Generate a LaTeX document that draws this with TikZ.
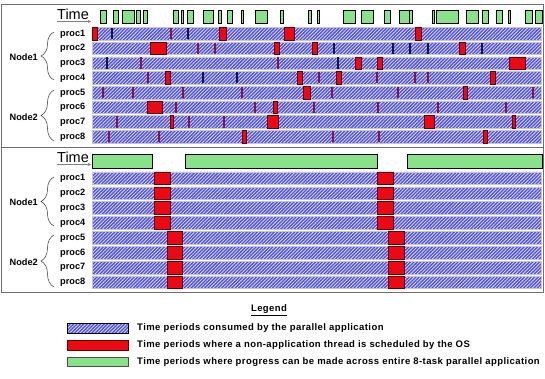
\documentclass[tikz,border=0pt]{standalone}
\usepackage{fontspec}
\setmainfont{Liberation Sans}
\usetikzlibrary{patterns,patterns.meta,decorations.pathreplacing,arrows.meta}
\definecolor{appblue}{RGB}{80,80,225}
\definecolor{osred}{RGB}{235,10,20}
\definecolor{progreen}{RGB}{150,238,150}
\definecolor{markred}{RGB}{135,20,60}
\definecolor{marknavy}{RGB}{20,20,70}
\definecolor{framegray}{RGB}{110,110,110}
\tikzset{
  appbar/.style={preaction={fill=appblue}, pattern={Lines[angle=45,distance=2.4pt,line width=0.8pt]}, pattern color=white!80!appblue, draw=gray!45, line width=0.5pt},
  osblock/.style={fill=osred, draw=black!60!red, line width=0.5pt},
  thinmark/.style={fill=markred},
  darkmark/.style={fill=marknavy},
  progblock/.style={preaction={fill=progreen}, pattern={Dots[distance=2pt,radius=0.35pt]}, pattern color=green!40!black, draw=black, line width=0.5pt},
  proclabel/.style={font=\fontsize{9.2}{10}\selectfont\bfseries, anchor=west, inner sep=0pt},
  nodelabel/.style={font=\fontsize{9.2}{10}\selectfont\bfseries, anchor=east, inner sep=0pt},
  timelabel/.style={font=\fontsize{14.5}{15}\selectfont, anchor=south west, inner sep=0pt},
  grpbrace/.style={decorate, decoration={brace, amplitude=13pt, aspect=0.5}, draw=black!80, line width=0.5pt},
  legendtext/.style={font=\fontsize{9.5}{10}\selectfont\bfseries\addfontfeature{LetterSpace=4.5}, anchor=west, inner sep=0pt},
  frame/.style={draw=framegray, line width=0.8pt}
}
% top panel helpers
\newcommand\tRed[3]{\pgfmathsetmacro\yy{27.5+(#1-1)*14.7}\path[osblock] (#2,\yy) rectangle (#3,\yy+12.5);}
\newcommand\tThin[2]{\pgfmathsetmacro\yy{27.5+(#1-1)*14.7}\path[thinmark] (#2-0.9,\yy+0.6) rectangle (#2+0.9,\yy+11.9);}
\newcommand\tDark[2]{\pgfmathsetmacro\yy{27.5+(#1-1)*14.7}\path[darkmark] (#2-0.6,\yy+0.6) rectangle (#2+0.6,\yy+11.9);}
\begin{document}
\begin{tikzpicture}[x=1pt,y=-1pt]
\useasboundingbox (0,0) rectangle (545,379);
\fill[white] (0,0) rectangle (545,379);
% frames
\draw[frame] (1,4) rectangle (543,147);
\draw[frame] (1,147) rectangle (543,292);

% ---------- TOP PANEL ----------
\node[timelabel] (time1) at (57,20) {Time};
\draw[gray, line width=0.6pt, -{Stealth[length=3pt,width=3pt]}] (57,21.5) -- (91,21.5);
\foreach \a/\b in {100/106,113/118,122/134,136/140,143/147,173/178,181/183,187/193,203/213,218/221,227/232,241/243,255/267,280/283,308/311,317/319,343/355,361/373,384/390,399/409,409/412,432/434,436/458,466/478,482/488,496/502,508/510,525/532,535/542}
  \path[progblock] (\a,10) rectangle (\b,23);
\foreach \i in {1,...,8} {
  \pgfmathsetmacro\yt{27.5+(\i-1)*14.7}
  \path[appbar] (92,\yt) rectangle (541,\yt+12.5);
  \node[proclabel] (tp\i) at (60,\yt+6.5) {proc\i};
}
% row 1
\tRed{1}{92}{97}\tRed{1}{219}{226}\tRed{1}{284}{294}\tRed{1}{415}{421}
\tThin{1}{171}\tDark{1}{112}\tDark{1}{188}
% row 2
\tRed{2}{150}{166}\tRed{2}{274}{279}\tRed{2}{312}{317}\tRed{2}{459}{465}
\tThin{2}{198}\tThin{2}{215}
\tDark{2}{334}\tDark{2}{393}\tDark{2}{410}\tDark{2}{428}\tDark{2}{482}
% row 3
\tRed{3}{355}{361}\tRed{3}{377}{382}\tRed{3}{509}{525}
\tThin{3}{141}\tThin{3}{278}\tDark{3}{107}\tDark{3}{338}
% row 4
\tRed{4}{165}{170}\tRed{4}{297}{302}\tRed{4}{336}{341}\tRed{4}{490}{495}
\tThin{4}{148}\tThin{4}{319}\tThin{4}{377}\tThin{4}{415}\tThin{4}{428}
\tDark{4}{203}\tDark{4}{237}
% row 5
\tRed{5}{303}{310}\tRed{5}{463}{467}
\tThin{5}{103}\tThin{5}{133}\tThin{5}{183}\tThin{5}{242}\tThin{5}{332}\tThin{5}{398}\tThin{5}{533}
% row 6
\tRed{6}{147}{162}\tRed{6}{273}{277}
\tThin{6}{176}\tThin{6}{255}\tThin{6}{314}\tThin{6}{378}\tThin{6}{438}\tThin{6}{506}
% row 7
\tRed{7}{170}{173}\tRed{7}{267}{278}\tRed{7}{424}{434}\tRed{7}{512}{515}
\tThin{7}{117}\tThin{7}{189}\tThin{7}{224}
% row 8
\tRed{8}{242}{246}\tRed{8}{483}{487}
\tThin{8}{109}\tThin{8}{159}\tThin{8}{333}\tThin{8}{379}
% braces and node labels
\coordinate (tb1a) at (54,80); \coordinate (tb1b) at (54,32);
\coordinate (tb2a) at (54,141); \coordinate (tb2b) at (54,90);
\draw[grpbrace] (tb1a) -- (tb1b);
\draw[grpbrace] (tb2a) -- (tb2b);
\node[nodelabel] (tn1) at (38,57) {Node1};
\node[nodelabel] (tn2) at (38,117) {Node2};

% ---------- BOTTOM PANEL ----------
\node[timelabel] (time2) at (57,163) {Time};
\draw[gray, line width=0.6pt, -{Stealth[length=3pt,width=3pt]}] (57,164.5) -- (91,164.5);
\foreach \a/\b in {92/152,185/377,407/542}
  \path[progblock] (\a,154) rectangle (\b,168);
\foreach \i in {1,...,8} {
  \pgfmathsetmacro\yt{172+(\i-1)*14.85}
  \path[appbar] (92,\yt) rectangle (541,\yt+12.7);
  \node[proclabel] (bp\i) at (60,\yt+6.5) {proc\i};
}
\foreach \i in {1,...,4} {
  \pgfmathsetmacro\yt{172+(\i-1)*14.85}
  \path[osblock] (154,\yt) rectangle (170,\yt+12.7);
  \path[osblock] (377,\yt) rectangle (393,\yt+12.7);
}
\foreach \i in {5,...,8} {
  \pgfmathsetmacro\yt{172+(\i-1)*14.85}
  \path[osblock] (167,\yt) rectangle (182,\yt+12.7);
  \path[osblock] (388,\yt) rectangle (404,\yt+12.7);
}
\coordinate (bb1a) at (54,226); \coordinate (bb1b) at (54,177);
\coordinate (bb2a) at (54,287); \coordinate (bb2b) at (54,235);
\draw[grpbrace] (bb1a) -- (bb1b);
\draw[grpbrace] (bb2a) -- (bb2b);
\node[nodelabel] (bn1) at (38,202) {Node1};
\node[nodelabel] (bn2) at (38,262) {Node2};

% ---------- LEGEND ----------
\node[font=\fontsize{9.5}{10}\selectfont\bfseries\addfontfeature{LetterSpace=4.5}, inner sep=0pt] (legt) at (269,310) {\underline{Legend}};
\path[appbar, draw=black] (67,323) rectangle (128,333);
\path[fill=osred, draw=black!60!red] (67,340) rectangle (128,350);
\path[progblock, draw=black!70] (67,357) rectangle (128,366);
\node[legendtext] (l1) at (137,328) {Time periods consumed by the parallel application};
\node[legendtext] (l2) at (137,345) {Time periods where a non-application thread is scheduled by the OS};
\node[legendtext] (l3) at (137,362) {Time periods where progress can be made across entire 8-task parallel application};
\end{tikzpicture}
\end{document}
